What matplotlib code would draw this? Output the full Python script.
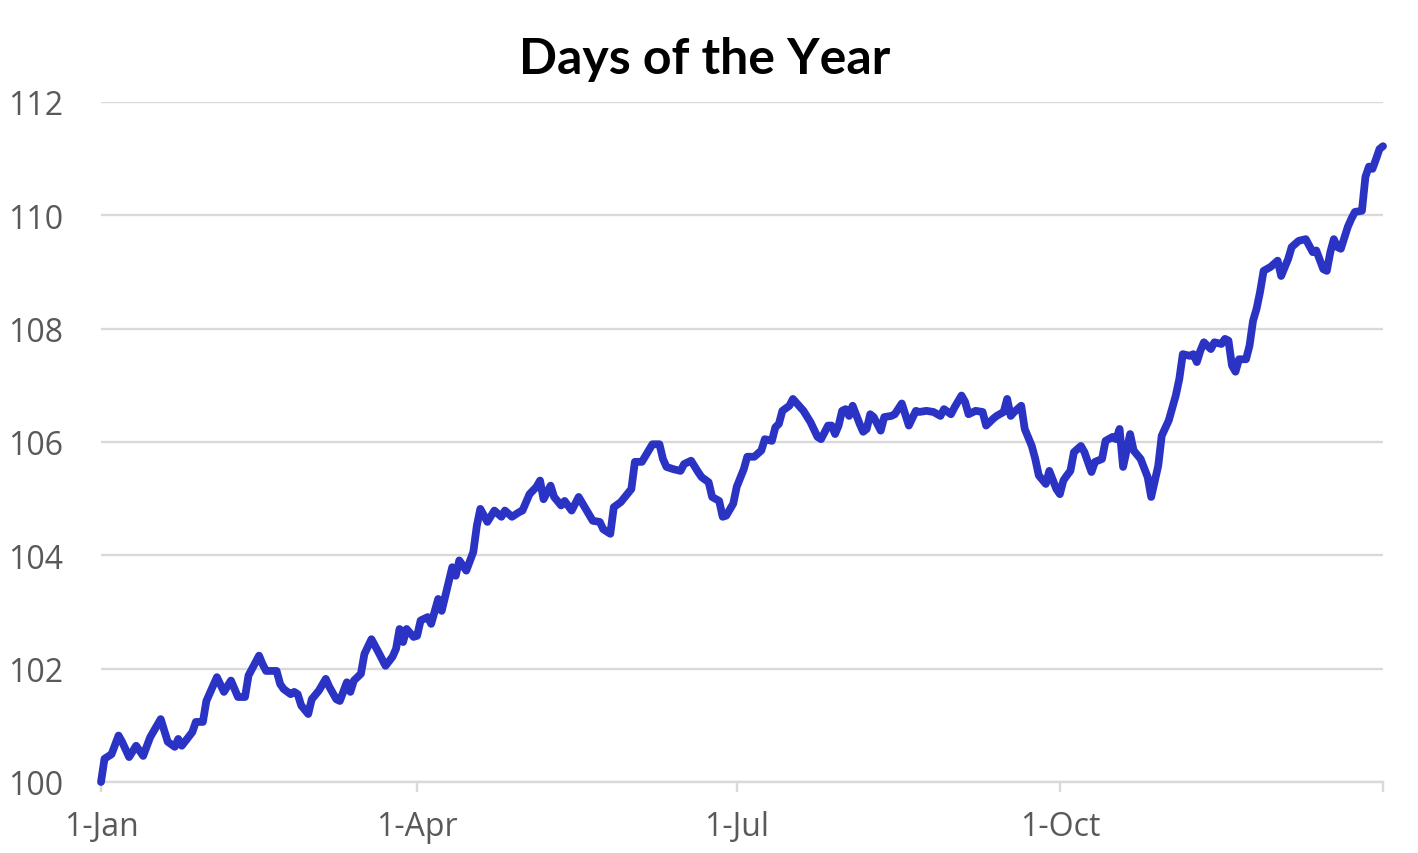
import matplotlib
matplotlib.use("Agg")
import matplotlib.pyplot as plt
import matplotlib.dates as mdates
import numpy as np
import datetime as dt

# Day offsets from 1-Jan and index values
days = [0, 1, 3, 5, 6, 8, 10, 12, 14, 17, 19, 21, 22, 23, 26, 27, 29, 30, 33, 35,
        37, 39, 41, 42, 45, 46, 47, 50, 51, 52, 54, 55, 56, 57, 59, 60, 62, 64, 65, 67,
        68, 70, 71, 72, 74, 75, 77, 79, 81, 83, 84, 85, 86, 87, 89, 90, 91, 93, 94, 96,
        97, 99, 100, 101, 102, 104, 106, 107, 108, 110, 112, 114, 115, 117, 119, 120, 122, 124, 125, 126,
        128, 129, 131, 132, 134, 136, 138, 140, 142, 143, 145, 146, 148, 151, 152, 154, 157, 159, 160, 161,
        163, 165, 166, 168, 170, 171, 173, 174, 176, 177, 178, 180, 181, 183, 184, 186, 188, 189, 191, 192,
        193, 194, 196, 197, 199, 200, 202, 204, 205, 207, 208, 209, 210, 211, 212, 213, 214, 216, 217, 218,
        219, 220, 222, 223, 225, 226, 228, 230, 232, 233, 235, 237, 239, 240, 242, 243, 245, 246, 247, 249,
        251, 252, 254, 255, 257, 258, 259, 260, 262, 263, 265, 266, 267, 269, 270, 272, 273, 274, 275, 276,
        277, 279, 280, 282, 283, 285, 286, 288, 289, 290, 291, 293, 294, 296, 298, 299, 301, 302, 304, 306,
        307, 308, 310, 311, 312, 313, 314, 316, 317, 319, 320, 321, 322, 323, 324, 326, 327, 328, 329, 330,
        331, 333, 335, 336, 338, 339, 341, 343, 345, 346, 348, 349, 350, 351, 352, 353, 355, 356, 357, 359,
        360, 361, 362, 363, 364, 365]
values = [100.00, 100.41, 100.49, 100.82, 100.71, 100.44, 100.64, 100.46, 100.79, 101.11,
          100.71, 100.62, 100.76, 100.64, 100.88, 101.06, 101.06, 101.43, 101.85, 101.59,
          101.79, 101.50, 101.50, 101.88, 102.23, 102.08, 101.96, 101.96, 101.73, 101.64,
          101.55, 101.59, 101.55, 101.35, 101.20, 101.46, 101.61, 101.82, 101.68, 101.46,
          101.43, 101.76, 101.59, 101.79, 101.91, 102.26, 102.52, 102.29, 102.05, 102.21,
          102.35, 102.70, 102.47, 102.70, 102.56, 102.58, 102.85, 102.91, 102.79, 103.23,
          103.02, 103.53, 103.79, 103.64, 103.91, 103.73, 104.06, 104.52, 104.82, 104.59,
          104.79, 104.68, 104.79, 104.68, 104.76, 104.79, 105.08, 105.21, 105.32, 104.99,
          105.23, 105.03, 104.88, 104.96, 104.79, 105.03, 104.82, 104.61, 104.59, 104.46,
          104.38, 104.85, 104.94, 105.17, 105.65, 105.65, 105.96, 105.96, 105.70, 105.56,
          105.52, 105.49, 105.61, 105.67, 105.47, 105.38, 105.29, 105.03, 104.96, 104.68,
          104.70, 104.91, 105.21, 105.52, 105.74, 105.74, 105.85, 106.05, 106.02, 106.26,
          106.32, 106.55, 106.64, 106.76, 106.62, 106.55, 106.35, 106.09, 106.05, 106.29,
          106.29, 106.14, 106.29, 106.55, 106.58, 106.46, 106.64, 106.32, 106.18, 106.23,
          106.49, 106.44, 106.20, 106.44, 106.46, 106.49, 106.68, 106.29, 106.55, 106.53,
          106.55, 106.53, 106.46, 106.58, 106.49, 106.61, 106.82, 106.71, 106.49, 106.55,
          106.53, 106.29, 106.41, 106.46, 106.53, 106.76, 106.46, 106.53, 106.64, 106.23,
          105.93, 105.70, 105.41, 105.26, 105.49, 105.17, 105.08, 105.32, 105.41, 105.49,
          105.82, 105.93, 105.82, 105.47, 105.65, 105.70, 106.02, 106.09, 106.05, 106.23,
          105.56, 106.14, 105.85, 105.70, 105.38, 105.03, 105.58, 106.11, 106.38, 106.82,
          107.11, 107.55, 107.52, 107.55, 107.41, 107.61, 107.76, 107.64, 107.76, 107.73,
          107.82, 107.79, 107.35, 107.24, 107.46, 107.46, 107.70, 108.14, 108.35, 108.65,
          109.02, 109.09, 109.20, 108.93, 109.23, 109.44, 109.55, 109.58, 109.35, 109.38,
          109.05, 109.02, 109.35, 109.58, 109.44, 109.41, 109.80, 109.94, 110.06, 110.08,
          110.68, 110.86, 110.82, 110.99, 111.17, 111.22]

title = "Days of the Year"
y_ticks = [100, 102, 104, 106, 108, 110, 112]
x_tick_dates = ["2019-01-01", "2019-04-01", "2019-07-01", "2019-10-01", "2020-01-01"]
x_tick_labels = ["1-Jan", "1-Apr", "1-Jul", "1-Oct", ""]

start = dt.datetime(2019, 1, 1)
dates = [start + dt.timedelta(days=d) for d in days]

fig = plt.figure(figsize=(14.18, 8.54), dpi=100)
ax = fig.add_axes([101/1418, 1 - 783/854, (1383-101)/1418, (783-103)/854])

ax.plot(dates, values, color="#2A33C3", linewidth=5.6, solid_joinstyle="round",
        solid_capstyle="round", zorder=3, clip_on=False)

ax.set_ylim(100, 112)
ax.set_yticks(y_ticks)
ax.set_xlim(start, dt.datetime(2020, 1, 1))
xt = [dt.datetime.strptime(s, "%Y-%m-%d") for s in x_tick_dates]
ax.set_xticks(xt)
ax.set_xticklabels(x_tick_labels)

ax.grid(axis="y", color="#D9D9D9", linewidth=1.7, zorder=0)
ax.grid(axis="x", visible=False)
for s in ["top", "right", "left"]:
    ax.spines[s].set_visible(False)
ax.spines["bottom"].set_color("#D9D9D9")
ax.spines["bottom"].set_linewidth(1.7)
ax.spines["bottom"].set_zorder(1)

ax.tick_params(axis="y", length=0, pad=27, labelsize=23, labelcolor="#595959")
ax.tick_params(axis="x", length=7, width=1.7, color="#D9D9D9", pad=13,
               labelsize=23, labelcolor="#595959")
for lab in ax.get_xticklabels() + ax.get_yticklabels():
    lab.set_fontfamily("Open Sans")

fig.text(705/1418, 1 - 60/854, title, ha="center", va="center",
         fontsize=36, fontweight="bold", fontfamily="Lato", color="black")

fig.savefig("out.png", dpi=100)
